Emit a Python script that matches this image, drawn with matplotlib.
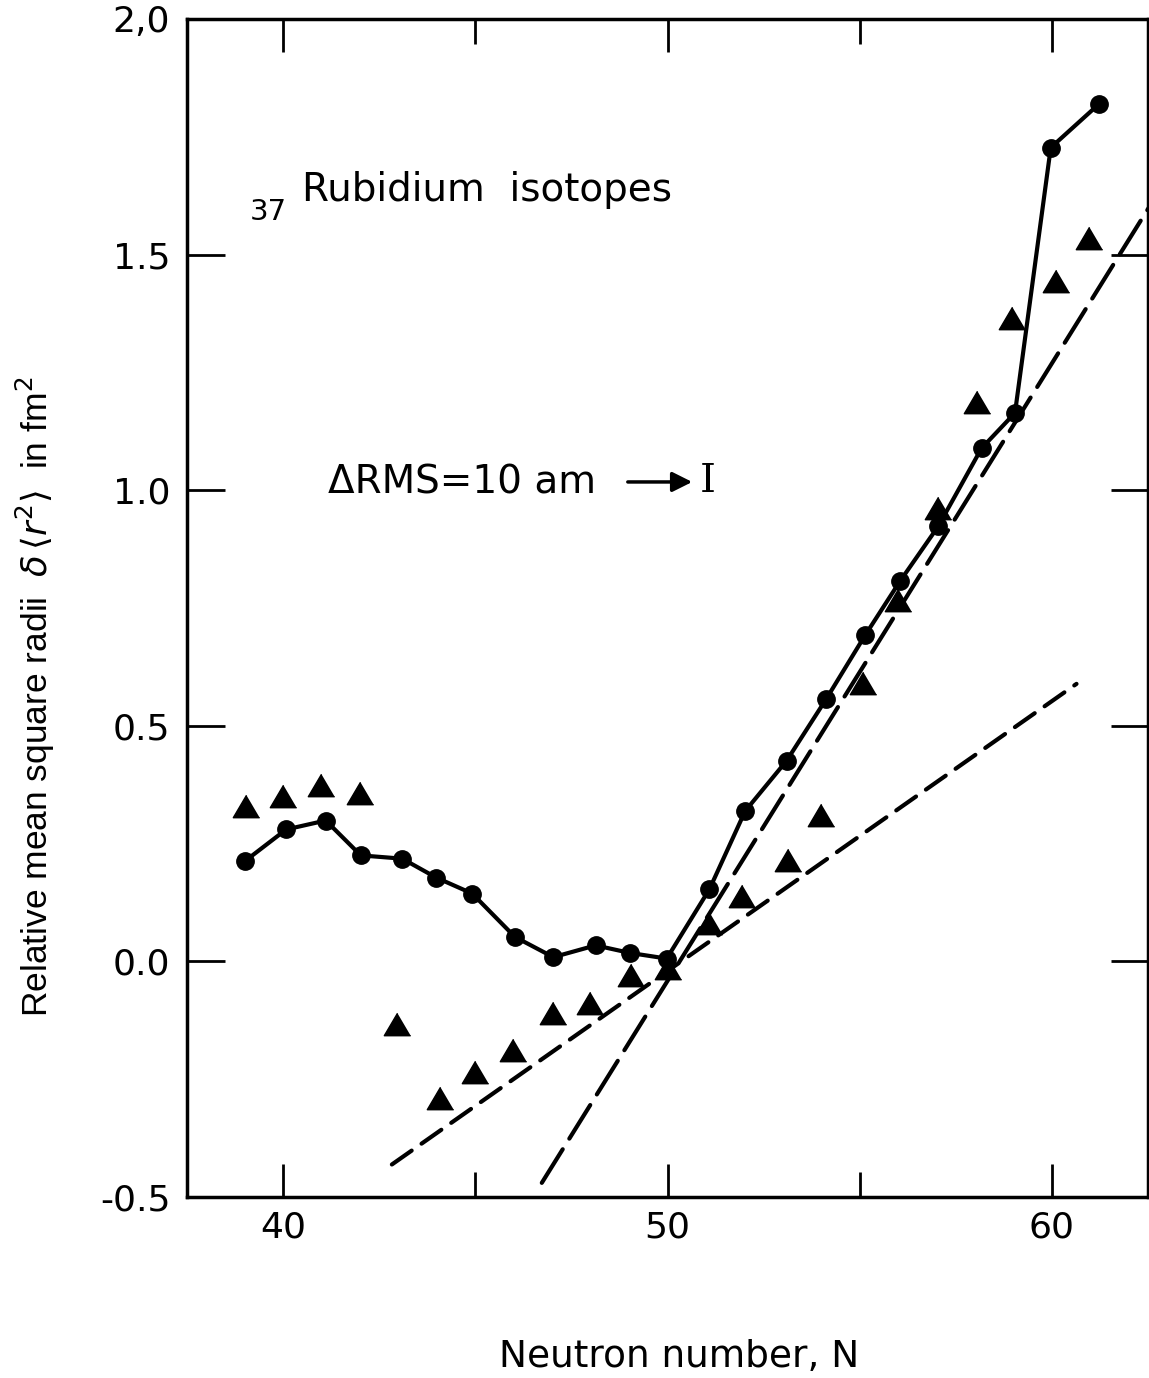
import matplotlib
matplotlib.use("Agg")
import matplotlib.pyplot as plt
from matplotlib.ticker import FixedLocator

# measured charge radii (circles) and second data set (triangles)
n_circle = [39.01, 40.08, 41.11, 42.02, 43.10, 43.98, 44.92, 46.03, 47.03, 48.13,
            49.02, 49.98, 51.09, 52.02, 53.10, 54.13, 55.14, 56.05, 57.04, 58.17,
            59.04, 59.97, 61.23]
dr2_circle = [0.213, 0.280, 0.299, 0.225, 0.218, 0.178, 0.144, 0.052, 0.009, 0.034,
              0.018, 0.006, 0.153, 0.319, 0.426, 0.557, 0.692, 0.807, 0.923, 1.089,
              1.164, 1.727, 1.820]

n_tri = [39.04, 40.01, 40.98, 42.00, 42.96, 44.07, 44.99, 45.99, 47.01, 47.98,
         49.04, 50.02, 51.09, 51.93, 53.14, 53.99, 55.09, 56.00, 57.04, 58.04,
         58.95, 60.10, 60.97]
dr2_tri = [0.329, 0.350, 0.375, 0.357, -0.133, -0.289, -0.235, -0.187, -0.109, -0.089,
           -0.028, -0.015, 0.082, 0.138, 0.215, 0.310, 0.590, 0.766, 0.963, 1.188,
           1.365, 1.444, 1.536]

# droplet-model guide lines (end points)
n_shallow = [42.83, 60.64]
dr2_shallow = [-0.431, 0.589]
n_steep = [46.73, 62.6]
dr2_steep = [-0.47, 1.61]

y_ticks = [-0.5, 0.0, 0.5, 1.0, 1.5, 2.0]
y_ticklabels = ["-0.5", "0.0", "0.5", "1.0", "1.5", "2,0"]
x_major = [40, 50, 60]
x_minor = [45, 55]

W, H = 1149, 1378
fig = plt.figure(figsize=(W / 100, H / 100), dpi=100)
ax = fig.add_axes([187 / W, 1 - 1197 / H, (1148 - 187) / W, (1197 - 19) / H])

ax.plot(n_shallow, dr2_shallow, color="black", lw=3, dashes=(5.8, 2.9),
        dash_capstyle="round", solid_capstyle="round")
ax.plot(n_steep, dr2_steep, color="black", lw=3, dashes=(9.5, 3.0),
        dash_capstyle="round")
ax.plot(n_circle, dr2_circle, color="black", lw=3, marker="o", ms=12.5)
tri = [(0, 0.85), (-1, -0.85), (1, -0.85)]
ax.plot(n_tri, dr2_tri, ls="none", marker=tri, ms=19, color="black")

ax.set_xlim(37.5, 62.5)
ax.set_ylim(-0.5, 2.0)

ax.xaxis.set_major_locator(FixedLocator(x_major))
ax.xaxis.set_minor_locator(FixedLocator(x_minor))
ax.set_yticks(y_ticks)
ax.set_yticklabels(y_ticklabels)
ax.tick_params(axis="x", which="major", direction="in", length=24, width=2,
               top=True, labelsize=26, pad=10)
ax.tick_params(axis="x", which="minor", direction="in", length=18, width=2, top=True)
ax.tick_params(axis="y", which="major", direction="in", length=27, width=2,
               right=True, labelsize=26, pad=12)
for s in ax.spines.values():
    s.set_linewidth(2.5)

ax.text(0.0656, 0.8294, "37", transform=ax.transAxes, fontsize=21, ha="left",
        va="baseline")
ax.text(0.1197, 0.8455, "Rubidium  isotopes", transform=ax.transAxes, fontsize=28,
        ha="left", va="baseline")

ax.text(0.1467, 0.5976, "\u0394RMS=10 am", transform=ax.transAxes, fontsize=28,
        ha="left", va="baseline")
ax.annotate("", xy=(0.5286, 0.607), xytext=(0.4558, 0.607),
            xycoords="axes fraction", textcoords="axes fraction",
            arrowprops=dict(arrowstyle="-|>", lw=2.5, color="black", mutation_scale=30))
ax.text(0.542, 0.6078, "I", transform=ax.transAxes, fontsize=29, ha="center",
        va="center", family="DejaVu Serif")

fig.text(35 / W, 1 - 697 / H,
         r"Relative mean square radii  $\delta\,\langle r^2\rangle$  in fm$^2$",
         rotation=90, ha="center", va="center", fontsize=25.5,
         family=["Liberation Sans", "DejaVu Sans"])
fig.text(679 / W, 1 - 1367 / H, "Neutron number, N", ha="center", va="baseline",
         fontsize=27)

fig.savefig("out.png", dpi=100)
